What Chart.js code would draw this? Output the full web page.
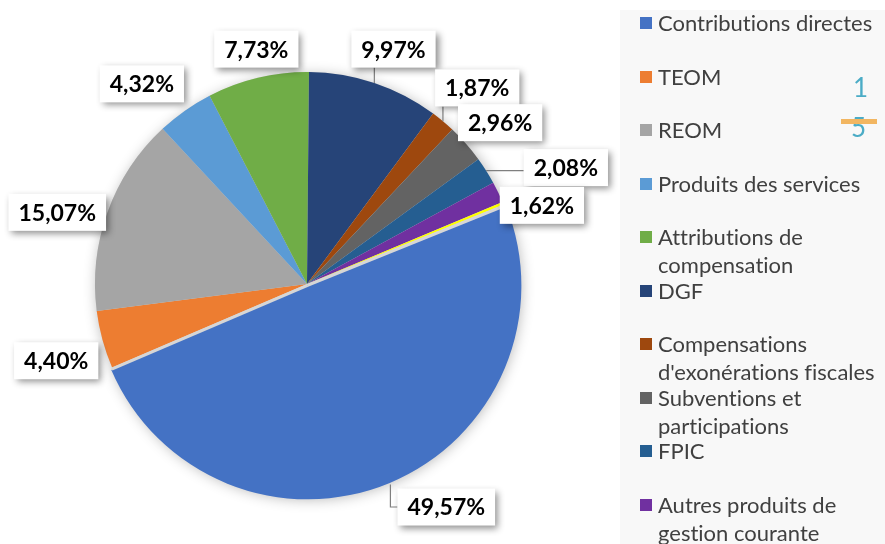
<!DOCTYPE html>
<html><head><meta charset="utf-8">
<script src="https://cdn.jsdelivr.net/npm/chart.js@4/dist/chart.umd.min.js"></script>
<style>
html,body{margin:0;padding:0;background:#fff;width:885px;height:544px;overflow:hidden;}
#wrap{position:relative;width:885px;height:544px;}
#c{position:absolute;left:0;top:0;}
#legend{position:absolute;left:620px;top:10px;width:265px;height:534px;background:#f8f8f8;font-family:Lato,'Open Sans',sans-serif;font-size:22px;color:#404040;font-variant-ligatures:none;font-feature-settings:"liga" 0,"clig" 0;}
.item{position:absolute;left:20px;width:245px;line-height:28px;}
.sw{position:absolute;left:0;top:8px;width:12px;height:12px;}
.txt{position:absolute;left:18px;top:0;width:228px;white-space:normal;}
.art{position:absolute;font-family:Lato,'Open Sans',sans-serif;font-size:26px;color:#4bacc6;line-height:30px;}
#bar{position:absolute;left:841px;top:119px;width:36px;height:5px;background:#f2b661;}
</style></head>
<body>
<div id="wrap">
<canvas id="c" width="885" height="544"></canvas>
<div id="legend"></div>
<div class="art" style="left:853px;top:72px;">1</div>
<div class="art" style="left:851px;top:112px;">5</div>
<div id="bar"></div>
</div>
<script>
const categories = ['Contributions directes','TEOM','REOM','Produits des services','Attributions de compensation','DGF',"Compensations d'exonérations fiscales",'Subventions et participations','FPIC','Autres produits de gestion courante',''];
const shares = [49.57,4.40,15.07,4.32,7.73,9.97,1.87,2.96,2.08,1.62,0.2];
const colors = ['#4472C4','#ED7D31','#A5A5A5','#5B9BD5','#70AD47','#264478','#9E480E','#636363','#255E91','#7030A0','#FFFF00'];
const shownLabels = [true,true,true,true,true,true,true,true,true,true,false];

// label layout (relative to pie centre, in units of radius) and leader flags
const labelAnchors = [[0.657,1.052],[-1.183,0.362],[-1.178,-0.338],[-0.779,-0.944],[-0.239,-1.108],[0.408,-1.108],[0.803,-0.925],[0.911,-0.761],[1.221,-0.549],[1.108,-0.371],null];
const leaders = [true,false,false,false,false,true,true,false,true,false,false];
const explode = shares.map((v,i)=>i===0?7:0);

function fmt(v){ return v.toFixed(2).replace('.',',') + '%'; }

// legend
const lg = document.getElementById('legend');
categories.forEach((name,i)=>{
  if(!name) return;
  const it = document.createElement('div');
  it.className='item';
  it.style.top = (-1 + 53.5*i) + 'px';
  const sw = document.createElement('div'); sw.className='sw'; sw.style.background=colors[i];
  const tx = document.createElement('div'); tx.className='txt'; tx.textContent=name;
  it.appendChild(sw); it.appendChild(tx); lg.appendChild(it);
});

const backdrop = {
  id:'backdrop',
  beforeDatasetsDraw(chart){
    const a = chart.getDatasetMeta(0).data[1];
    const ctx = chart.ctx;
    ctx.save();
    ctx.shadowColor='rgba(0,0,0,0.30)';
    ctx.shadowBlur=14; ctx.shadowOffsetX=2; ctx.shadowOffsetY=3;
    ctx.fillStyle='#d6d6d6';
    ctx.beginPath(); ctx.arc(a.x,a.y,a.outerRadius,0,Math.PI*2); ctx.fill();
    ctx.restore();
  },
  afterDatasetsDraw(chart){
    // light gap bands along the exploded slice's edges (on the slice's own side)
    const meta = chart.getDatasetMeta(0);
    const ctx = chart.ctx;
    const lw = 3;
    meta.data.forEach((arc,i)=>{
      if(!explode[i]) return;
      ctx.save();
      ctx.strokeStyle='#d6d6d6'; ctx.lineWidth=lw; ctx.lineCap='butt';
      [[arc.startAngle, 1],[arc.endAngle, -1]].forEach(([ang,s])=>{
        const nx = Math.cos(ang + s*Math.PI/2)*lw/2, ny = Math.sin(ang + s*Math.PI/2)*lw/2;
        const R = arc.outerRadius + 1;
        ctx.beginPath();
        ctx.moveTo(arc.x + nx, arc.y + ny);
        ctx.lineTo(arc.x + Math.cos(ang)*R + nx, arc.y + Math.sin(ang)*R + ny);
        ctx.stroke();
      });
      ctx.restore();
    });
  }
};

const sliceLabels = {
  id:'sliceLabels',
  afterDatasetsDraw(chart){
    const meta = chart.getDatasetMeta(0);
    const ctx = chart.ctx;
    const ds = chart.data.datasets[0];
    meta.data.forEach((arc,i)=>{
      const an = labelAnchors[i];
      if(!an || !shownLabels[i]) return;
      const R = arc.outerRadius;
      const cx = arc.x, cy = arc.y;
      const o = (explode[i] || 0)/4;
      const fix = 1 - Math.sin(Math.min(Math.PI, arc.circumference || 0));
      const off = o*(1+2*fix);
      const text = fmt(ds.data[i]);
      ctx.save();
      ctx.font = 'bold 23px Lato, "Open Sans", sans-serif';
      const tw = ctx.measureText(text).width;
      const w = tw + 20, h = 37;
      const bx = cx + an[0]*R, by = cy + an[1]*R;
      const L = bx - w/2, T = by - h/2, Rr = bx + w/2, B = by + h/2;
      if(leaders[i]){
        const mid = (arc.startAngle + arc.endAngle)/2;
        const px = cx + Math.cos(mid)*(R+off), py = cy + Math.sin(mid)*(R+off);
        ctx.strokeStyle='#7f7f7f'; ctx.lineWidth=1.2;
        ctx.beginPath(); ctx.moveTo(px,py);
        if(px>=L && px<=Rr){ ctx.lineTo(px, py<T?T:B); }
        else if(py>=T && py<=B){ ctx.lineTo(px<L?L:Rr, py); }
        else { ctx.lineTo(px, by); ctx.lineTo(px<L?L:Rr, by); }
        ctx.stroke();
      }
      ctx.shadowColor='rgba(0,0,0,0.45)'; ctx.shadowBlur=7; ctx.shadowOffsetX=3; ctx.shadowOffsetY=3;
      ctx.fillStyle='#ffffff';
      ctx.fillRect(L,T,w,h);
      ctx.shadowColor='transparent'; ctx.shadowBlur=0; ctx.shadowOffsetX=0; ctx.shadowOffsetY=0;
      ctx.fillStyle='#000000'; ctx.textAlign='center'; ctx.textBaseline='middle';
      ctx.fillText(text,bx,by+1);
      ctx.restore();
    });
  }
};

new Chart(document.getElementById('c'),{
  type:'pie',
  data:{labels:categories,datasets:[{data:shares,backgroundColor:colors,borderWidth:0,offset:explode}]},
  options:{
    responsive:false, animation:false, rotation:68,
    layout:{padding:{left:91.5,right:362.5,top:68.5,bottom:44.5}},
    plugins:{legend:{display:false},tooltip:{enabled:false}}
  },
  plugins:[backdrop,sliceLabels]
});
</script>
</body></html>
